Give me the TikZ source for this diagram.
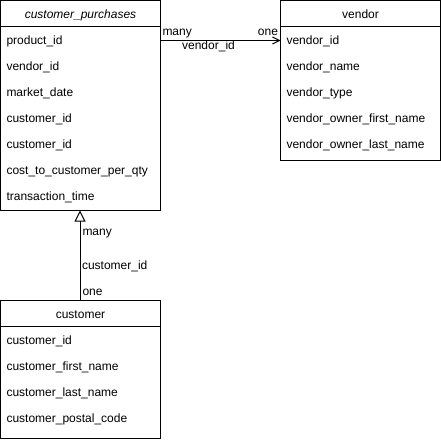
\documentclass[tikz,border=0pt]{standalone}
\usepackage{fontspec}
\setmainfont{Liberation Sans}
\usetikzlibrary{arrows.meta,calc}
\begin{document}
\begin{tikzpicture}[x=1pt,y=-1pt,line width=1pt,
  tbl/.style={draw, inner sep=0pt, outer sep=0pt, anchor=north west},
  txt/.style={font=\fontsize{12}{14}\selectfont, inner sep=0pt},
  row/.style={txt, anchor=base west},
  hdr/.style={txt, anchor=base},
  lbl/.style={txt, anchor=base west}]
\useasboundingbox (0,0) rectangle (441,439);

% customer_purchases table
\node[tbl, minimum width=160pt, minimum height=210pt] (cp) at (0.5,0.5) {};
\draw ([yshift=-26pt]cp.north west) -- ([yshift=-26pt]cp.north east);
\node[hdr] (cpt) at ([yshift=-18pt]cp.north) {\textit{customer\_purchases}};
\foreach \t [count=\i] in {product\_id, vendor\_id, market\_date, customer\_id, customer\_id, cost\_to\_customer\_per\_qty, transaction\_time}
  \node[row] (cp\i) at ([xshift=5.5pt,yshift={-44pt-26pt*(\i-1)}]cp.north west) {\t};

% vendor table
\node[tbl, minimum width=160pt, minimum height=160pt] (v) at (280.5,0.5) {};
\draw ([yshift=-26pt]v.north west) -- ([yshift=-26pt]v.north east);
\node[hdr] (vt) at ([yshift=-18pt]v.north) {vendor};
\foreach \t [count=\i] in {vendor\_id, vendor\_name, vendor\_type, vendor\_owner\_first\_name, vendor\_owner\_last\_name}
  \node[row] (v\i) at ([xshift=5.5pt,yshift={-44pt-26pt*(\i-1)}]v.north west) {\t};

% customer table
\node[tbl, minimum width=160pt, minimum height=138pt] (c) at (0.5,300.5) {};
\draw ([yshift=-26pt]c.north west) -- ([yshift=-26pt]c.north east);
\node[hdr] (ct) at ([yshift=-18pt]c.north) {customer};
\foreach \t [count=\i] in {customer\_id, customer\_first\_name, customer\_last\_name, customer\_postal\_code}
  \node[row] (c\i) at ([xshift=5.5pt,yshift={-44pt-26pt*(\i-1)}]c.north west) {\t};

% relation customer_purchases -> vendor
\coordinate (e1s) at ([yshift=-40pt]cp.north east);
\coordinate (e1t) at ([yshift=-40pt]v.north west);
\coordinate (e1m) at ($(e1s)!0.5!(e1t)$);
\draw[-{Straight Barb[length=7pt,width=7pt]}] (e1s) -- (e1t);
\node[lbl] (m1) at ([xshift=1.5pt,yshift=5pt]e1s) {many};
\node[txt, anchor=base east] (o1) at ([xshift=-2pt,yshift=5pt]e1t) {one};
\node[hdr] (k1) at ([xshift=-12pt,yshift=-9pt]e1m) {vendor\_id};

% relation customer -> customer_purchases
\coordinate (e2t) at ([xshift=-0.5pt]cp.south);
\coordinate (e2s) at ([xshift=-0.5pt]c.north);
\draw[-{Triangle[open,length=11pt,width=11pt]}] (e2s) -- (e2t);
\node[lbl] (m2) at (82,235) {many};
\node[lbl] (k2) at (81.5,269) {customer\_id};
\node[lbl] (o2) at (82,295) {one};
\end{tikzpicture}
\end{document}
